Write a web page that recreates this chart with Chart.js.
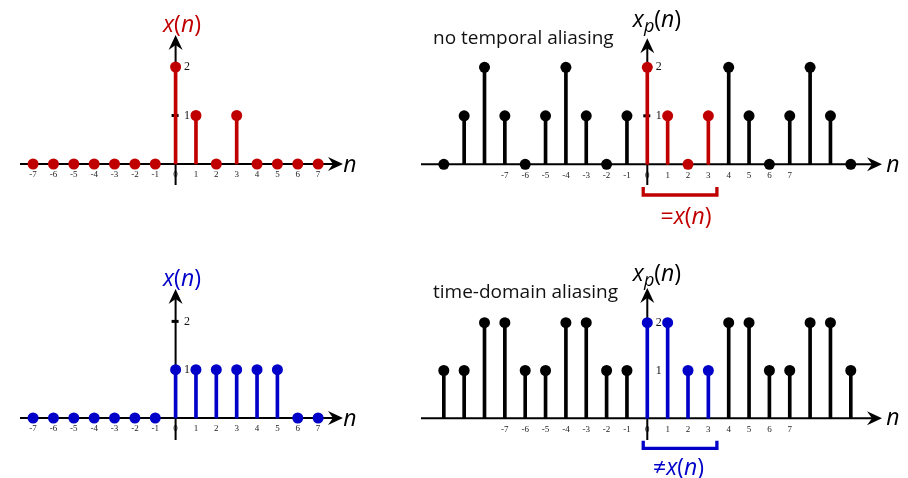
<!DOCTYPE html>
<html>
<head>
<meta charset="utf-8">
<script src="https://cdn.jsdelivr.net/npm/chart.js@4.4.1/dist/chart.umd.min.js"></script>
<style>
  html, body { margin: 0; padding: 0; background: #fff; }
  body { width: 908px; height: 478px; position: relative; overflow: hidden; }
  .panel { position: absolute; }
</style>
</head>
<body>
<script>
// ---------------- DATA ----------------
const N_FINITE   = [-7, -6, -5, -4, -3, -2, -1, 0, 1, 2, 3, 4, 5, 6, 7];
const X_TOP      = [ 0,  0,  0,  0,  0,  0,  0, 2, 1, 0, 1, 0, 0, 0, 0];
const X_BOTTOM   = [ 0,  0,  0,  0,  0,  0,  0, 1, 1, 1, 1, 1, 1, 0, 0];
const N_PERIODIC = [-10, -9, -8, -7, -6, -5, -4, -3, -2, -1, 0, 1, 2, 3, 4, 5, 6, 7, 8, 9, 10];
const XP_TOP     = [  0,  1,  2,  1,  0,  1,  2,  1,  0,  1, 2, 1, 0, 1, 2, 1, 0, 1, 2, 1, 0];
const XP_BOTTOM  = [  1,  1,  2,  2,  1,  1,  2,  2,  1,  1, 2, 2, 1, 1, 2, 2, 1, 1, 2, 2, 1];
const TICK_N      = [-7, -6, -5, -4, -3, -2, -1, 0, 1, 2, 3, 4, 5, 6, 7];
const TICK_LABELS = ['-7', '-6', '-5', '-4', '-3', '-2', '-1', '0', '1', '2', '3', '4', '5', '6', '7'];
const Y_TICKS       = [1, 2];
const Y_TICK_LABELS = ['1', '2'];
const PERIOD_START = 0, PERIOD_END = 3;   // one period of x_p(n), N = 4
const TITLE_TOP = 'no temporal aliasing';
const TITLE_BOTTOM = 'time-domain aliasing';

// ---------------- STYLE / LAYOUT ----------------
const RED = '#c00000', BLUE = '#0000c8', BLACK = '#000';
const MATH_SIZE = 23;
const FONT_SANS = '"Open Sans", "Noto Sans", sans-serif';
const FONT_SERIF = '"Liberation Serif", "DejaVu Serif", serif';

const panels = [
  { left: 0,   top: 0,   w: 370, h: 240, ox: 175.6, oy: 164.0, ppx: 20.36, ppy: 48.5,
    n: N_FINITE, v: X_TOP, color: RED, periodic: false,
    xAxis: [-155.6, 167.4], yAxis: [21, -129], dashAt: [1],
    label: [{t:'x',i:1},{t:'(',i:0},{t:'n',i:1},{t:')',i:0}], labelPos: [6.4, -132.5], labelColor: RED,
    nPos: [169.4, 7.5] },
  { left: 400, top: 0,   w: 508, h: 240, ox: 247.3, oy: 164.3, ppx: 20.35, ppy: 48.5,
    n: N_PERIODIC, v: XP_TOP, color: RED, periodic: true,
    xAxis: [-226.3, 234.7], yAxis: [20.7, -126], dashAt: [1],
    label: [{t:'x',i:1},{t:'p',i:1,sub:1},{t:'(',i:0},{t:'n',i:1},{t:')',i:0}], labelPos: [9.7, -137], labelColor: BLACK,
    nPos: [240.7, 7.3], title: TITLE_TOP, titlePos: [-214.3, -120.8],
    bracket: [-0.2, 3.42, 30.7, 22.7],
    note: [{t:'=',i:0},{t:'x',i:1},{t:'(',i:0},{t:'n',i:1},{t:')',i:0}], notePos: [38.7, 59.7] },
  { left: 0,   top: 240, w: 370, h: 238, ox: 175.6, oy: 178.0, ppx: 20.36, ppy: 48.3,
    n: N_FINITE, v: X_BOTTOM, color: BLUE, periodic: false,
    xAxis: [-155.6, 167.4], yAxis: [22, -129], dashAt: [2],
    label: [{t:'x',i:1},{t:'(',i:0},{t:'n',i:1},{t:')',i:0}], labelPos: [6.4, -132.5], labelColor: BLUE,
    nPos: [169.4, 7.5] },
  { left: 400, top: 240, w: 508, h: 238, ox: 247.3, oy: 178.3, ppx: 20.35, ppy: 47.8,
    n: N_PERIODIC, v: XP_BOTTOM, color: BLUE, periodic: true,
    xAxis: [-226.3, 234.7], yAxis: [21.7, -130.3], dashAt: [2],
    label: [{t:'x',i:1},{t:'p',i:1,sub:1},{t:'(',i:0},{t:'n',i:1},{t:')',i:0}], labelPos: [9.7, -137], labelColor: BLACK,
    nPos: [240.7, 6.7], title: TITLE_BOTTOM, titlePos: [-214.3, -120.8],
    bracket: [-0.2, 3.42, 30, 22.4],
    note: [{t:'≠',i:0},{t:'x',i:1},{t:'(',i:0},{t:'n',i:1},{t:')',i:0}], notePos: [31.2, 56.7] }
];

function mathFont(p) {
  const size = p.sub ? Math.round(MATH_SIZE * 0.78) : MATH_SIZE;
  return (p.i ? 'italic ' : '') + size + 'px ' + FONT_SANS;
}
function drawMath(ctx, parts, cx, baseY, color) {
  ctx.save();
  ctx.fillStyle = color;
  ctx.textBaseline = 'alphabetic';
  ctx.textAlign = 'left';
  let total = 0;
  const widths = parts.map(p => { ctx.font = mathFont(p); const w = ctx.measureText(p.t).width; total += w; return w; });
  let x = cx - total / 2;
  parts.forEach((p, k) => {
    ctx.font = mathFont(p);
    ctx.fillText(p.t, x, baseY + (p.sub ? 5 : 0));
    x += widths[k];
  });
  ctx.restore();
}
function arrow(ctx, tx, ty, dir) {
  const L = 15, W = 7, notch = 10;
  ctx.beginPath();
  if (dir === 'right') {
    ctx.moveTo(tx, ty); ctx.lineTo(tx - L, ty - W); ctx.lineTo(tx - notch, ty); ctx.lineTo(tx - L, ty + W);
  } else {
    ctx.moveTo(tx, ty); ctx.lineTo(tx - W, ty + L); ctx.lineTo(tx, ty + notch); ctx.lineTo(tx + W, ty + L);
  }
  ctx.closePath();
  ctx.fill();
}

const stemPlugin = {
  id: 'stemDecor',
  beforeDatasetsDraw(chart) {
    const cfg = chart.options.plugins.stemDecor;
    const ctx = chart.ctx, xs = chart.scales.x, ys = chart.scales.y;
    const x0 = xs.getPixelForValue(0), y0 = ys.getPixelForValue(0);
    ctx.save();
    ctx.fillStyle = '#222';
    ctx.font = '9px ' + FONT_SERIF;
    ctx.textAlign = 'center';
    ctx.textBaseline = 'middle';
    TICK_N.forEach((n, k) => ctx.fillText(TICK_LABELS[k], xs.getPixelForValue(n), y0 + 11));
    ctx.strokeStyle = BLACK; ctx.fillStyle = BLACK; ctx.lineWidth = 2;
    ctx.beginPath();
    ctx.moveTo(x0 + cfg.xAxis[0], y0); ctx.lineTo(x0 + cfg.xAxis[1] - 8, y0);
    ctx.moveTo(x0, y0 + cfg.yAxis[0]); ctx.lineTo(x0, y0 + cfg.yAxis[1] + 8);
    ctx.stroke();
    arrow(ctx, x0 + cfg.xAxis[1], y0, 'right');
    arrow(ctx, x0, y0 + cfg.yAxis[1], 'up');
    cfg.dashAt.forEach(v => ctx.fillRect(x0 - 4, ys.getPixelForValue(v) - 1.5, 7, 3));
    ctx.restore();
  },
  afterDatasetsDraw(chart) {
    const cfg = chart.options.plugins.stemDecor;
    const ctx = chart.ctx, xs = chart.scales.x, ys = chart.scales.y;
    const x0 = xs.getPixelForValue(0), y0 = ys.getPixelForValue(0);
    ctx.save();
    ctx.fillStyle = '#111';
    ctx.font = '12px ' + FONT_SERIF;
    ctx.textAlign = 'left';
    ctx.textBaseline = 'middle';
    Y_TICKS.forEach((v, k) => ctx.fillText(Y_TICK_LABELS[k], x0 + 8.5, ys.getPixelForValue(v)));
    drawMath(ctx, cfg.label, x0 + cfg.labelPos[0], y0 + cfg.labelPos[1], cfg.labelColor);
    drawMath(ctx, [{t:'n',i:1}], x0 + cfg.nPos[0] + 5, y0 + cfg.nPos[1], BLACK);
    if (cfg.title) {
      ctx.fillStyle = '#111';
      ctx.font = '19px ' + FONT_SANS;
      ctx.textAlign = 'left';
      ctx.textBaseline = 'alphabetic';
      ctx.fillText(cfg.title, x0 + cfg.titlePos[0], y0 + cfg.titlePos[1]);
    }
    if (cfg.bracket) {
      const [a, b, barDy, legDy] = cfg.bracket;
      const xa = xs.getPixelForValue(a), xb = xs.getPixelForValue(b);
      ctx.strokeStyle = cfg.color; ctx.lineWidth = 3.3; ctx.lineJoin = 'miter'; ctx.lineCap = 'butt';
      ctx.beginPath();
      ctx.moveTo(xa, y0 + legDy); ctx.lineTo(xa, y0 + barDy); ctx.lineTo(xb, y0 + barDy); ctx.lineTo(xb, y0 + legDy);
      ctx.stroke();
      drawMath(ctx, cfg.note, x0 + cfg.notePos[0], y0 + cfg.notePos[1], cfg.color);
    }
    ctx.restore();
  }
};

panels.forEach(cfg => {
  const wrap = document.createElement('div');
  wrap.className = 'panel';
  Object.assign(wrap.style, { left: cfg.left + 'px', top: cfg.top + 'px', width: cfg.w + 'px', height: cfg.h + 'px' });
  const canvas = document.createElement('canvas');
  canvas.width = cfg.w; canvas.height = cfg.h;
  wrap.appendChild(canvas);
  document.body.appendChild(wrap);

  const inPeriod = n => cfg.periodic ? (n >= PERIOD_START && n <= PERIOD_END) : true;
  const all = cfg.n.map((n, k) => ({ x: n, y: cfg.v[k] }));
  const colored = all.filter(p => inPeriod(p.x));
  const black = all.filter(p => !inPeriod(p.x));

  const xmin = -cfg.ox / cfg.ppx, xmax = (cfg.w - cfg.ox) / cfg.ppx;
  const ymax = cfg.oy / cfg.ppy, ymin = -(cfg.h - cfg.oy) / cfg.ppy;

  const stem = (data, color, order) => ({ type: 'bar', data, backgroundColor: color, borderWidth: 0,
    barThickness: 3, grouped: false, order, clip: false });
  const dots = (data, color, order) => ({ type: 'scatter', data, pointRadius: 5.5, pointHoverRadius: 5.5,
    pointBackgroundColor: color, pointBorderWidth: 0, borderWidth: 0, showLine: false, order, clip: false });

  new Chart(canvas, {
    type: 'scatter',
    data: { datasets: [
      stem(black, BLACK, 4), stem(colored, cfg.color, 3),
      dots(black, BLACK, 2), dots(colored, cfg.color, 1)
    ] },
    options: {
      responsive: false, animation: false, devicePixelRatio: 1,
      layout: { padding: 0, autoPadding: false },
      scales: {
        x: { type: 'linear', min: xmin, max: xmax, offset: false, display: false },
        y: { type: 'linear', min: ymin, max: ymax, display: false }
      },
      plugins: { legend: { display: false }, tooltip: { enabled: false }, stemDecor: cfg }
    },
    plugins: [stemPlugin]
  });
});
</script>
</body>
</html>
